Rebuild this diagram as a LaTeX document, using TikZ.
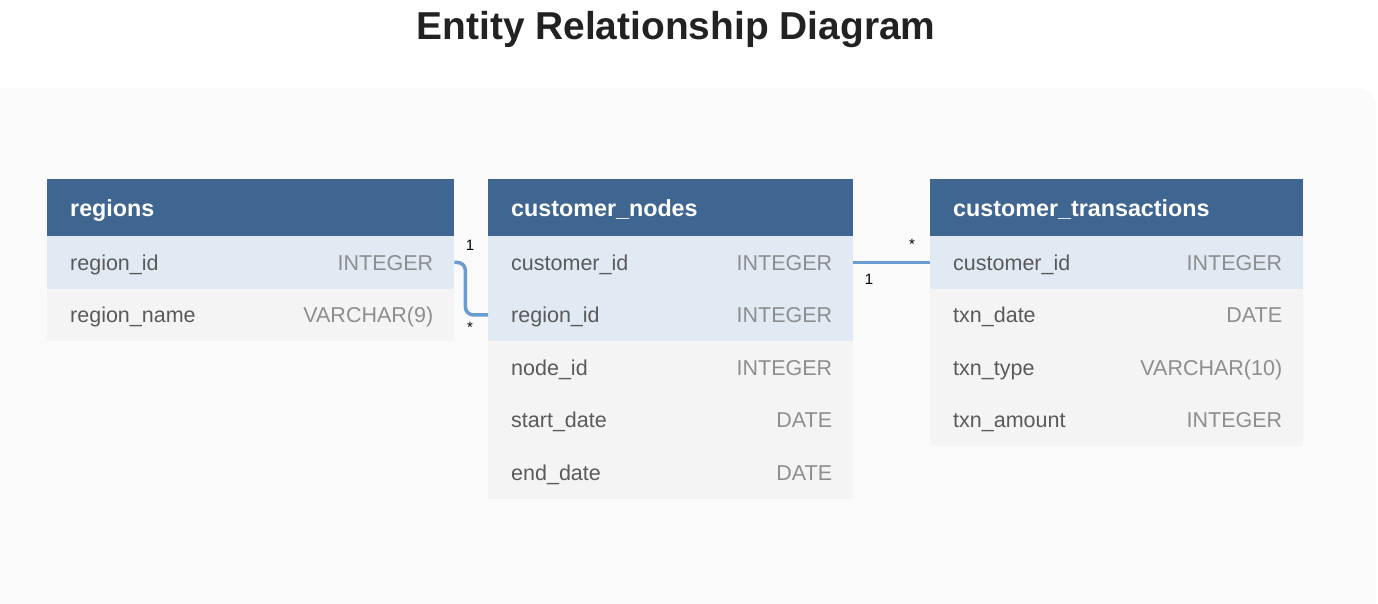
\documentclass[tikz,border=0pt]{standalone}
\usepackage{fontspec}
\setmainfont{Liberation Sans}
\definecolor{hdrblue}{HTML}{3F6591}
\definecolor{keyrow}{HTML}{E1EAF2}
\definecolor{plainrow}{HTML}{F4F4F4}
\definecolor{panelbg}{HTML}{FAFAFA}
\definecolor{fieldtxt}{HTML}{5A5A5A}
\definecolor{typetxt}{HTML}{8E8E8E}
\definecolor{connblue}{HTML}{6C9BD2}
\definecolor{titletxt}{HTML}{222222}
\begin{document}
\begin{tikzpicture}[x=1pt,y=-1pt,
  hdr/.style={fill=hdrblue, anchor=north west, inner sep=0pt, minimum height=57pt},
  keyr/.style={fill=keyrow, anchor=north west, inner sep=0pt, minimum height=52.5pt},
  plainr/.style={fill=plainrow, anchor=north west, inner sep=0pt, minimum height=52.5pt},
  hdrtext/.style={anchor=west, inner sep=0pt, text=white, font=\fontsize{23.3}{28}\selectfont\bfseries, text height=16.6pt, text depth=0pt},
  fieldname/.style={anchor=west, inner sep=0pt, text=fieldtxt, font=\fontsize{21.5}{26}\selectfont, text height=15.4pt, text depth=0pt},
  fieldtype/.style={anchor=east, inner sep=0pt, text=typetxt, font=\fontsize{21.5}{26}\selectfont, text height=15.4pt, text depth=0pt},
  conn/.style={draw=connblue, line width=3.5pt, rounded corners=8pt},
  card/.style={inner sep=0pt, text=black, font=\fontsize{15}{17}\selectfont}
]
\useasboundingbox (0,0) rectangle (1378,604);
\fill[white] (0,0) rectangle (1378,604);
\fill[panelbg, rounded corners=20pt] (0,604) -- (0,88) -- (1376,88) -- (1376,604) -- cycle;
\fill[panelbg] (0,88) rectangle (30,604);
\fill[panelbg] (0,560) rectangle (1376,604);

\node[anchor=base, inner sep=0pt, text=titletxt, font=\fontsize{38.9}{46}\selectfont\bfseries] (title) at (676,40) {Entity Relationship Diagram};

% regions
\node[hdr, minimum width=407pt] (rh) at (47,179) {};
\node[keyr, minimum width=407pt] (r1) at (47,236) {};
\node[plainr, minimum width=407pt] (r2) at (47,288.5) {};
\node[hdrtext] at ([xshift=23pt]rh.west) {regions};
\node[fieldname] at ([xshift=23pt]r1.west) {region\_id};
\node[fieldtype] at ([xshift=-21pt]r1.east) {INTEGER};
\node[fieldname] at ([xshift=23pt]r2.west) {region\_name};
\node[fieldtype] at ([xshift=-21pt]r2.east) {VARCHAR(9)};

% customer_nodes
\node[hdr, minimum width=365pt] (ch) at (488,179) {};
\node[keyr, minimum width=365pt] (c1) at (488,236) {};
\node[keyr, minimum width=365pt] (c2) at (488,288.5) {};
\node[plainr, minimum width=365pt] (c3) at (488,341) {};
\node[plainr, minimum width=365pt] (c4) at (488,393.5) {};
\node[plainr, minimum width=365pt] (c5) at (488,446) {};
\node[hdrtext] at ([xshift=23pt]ch.west) {customer\_nodes};
\node[fieldname] at ([xshift=23pt]c1.west) {customer\_id};
\node[fieldtype] at ([xshift=-21pt]c1.east) {INTEGER};
\node[fieldname] at ([xshift=23pt]c2.west) {region\_id};
\node[fieldtype] at ([xshift=-21pt]c2.east) {INTEGER};
\node[fieldname] at ([xshift=23pt]c3.west) {node\_id};
\node[fieldtype] at ([xshift=-21pt]c3.east) {INTEGER};
\node[fieldname] at ([xshift=23pt]c4.west) {start\_date};
\node[fieldtype] at ([xshift=-21pt]c4.east) {DATE};
\node[fieldname] at ([xshift=23pt]c5.west) {end\_date};
\node[fieldtype] at ([xshift=-21pt]c5.east) {DATE};

% customer_transactions
\node[hdr, minimum width=373pt] (th) at (930,179) {};
\node[keyr, minimum width=373pt] (t1) at (930,236) {};
\node[plainr, minimum width=373pt] (t2) at (930,288.5) {};
\node[plainr, minimum width=373pt] (t3) at (930,341) {};
\node[plainr, minimum width=373pt] (t4) at (930,393.5) {};
\node[hdrtext] at ([xshift=23pt]th.west) {customer\_transactions};
\node[fieldname] at ([xshift=23pt]t1.west) {customer\_id};
\node[fieldtype] at ([xshift=-21pt]t1.east) {INTEGER};
\node[fieldname] at ([xshift=23pt]t2.west) {txn\_date};
\node[fieldtype] at ([xshift=-21pt]t2.east) {DATE};
\node[fieldname] at ([xshift=23pt]t3.west) {txn\_type};
\node[fieldtype] at ([xshift=-21pt]t3.east) {VARCHAR(10)};
\node[fieldname] at ([xshift=23pt]t4.west) {txn\_amount};
\node[fieldtype] at ([xshift=-21pt]t4.east) {INTEGER};

% connectors
\draw[conn] (r1.east) -- ++(11,0) |- (c2.west);
\draw[conn] (c1.east) -- (t1.west);

% cardinalities
\node[card] (k1) at (470,245) {1};
\node[card] (k2) at (470,327) {*};
\node[card] (k3) at (912,244) {*};
\node[card] (k4) at (869,279) {1};
\end{tikzpicture}
\end{document}
